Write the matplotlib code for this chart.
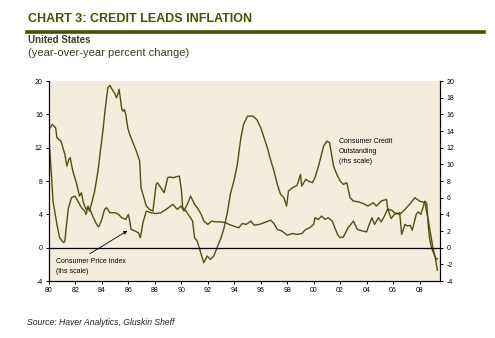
import matplotlib.pyplot as plt
import numpy as np

# Consumer credit outstanding, y/y % (rhs scale)
cc_years = [1980.0, 1980.2, 1980.3, 1980.6, 1980.8, 1981.1, 1981.2, 1981.3, 1981.45, 1981.55,
            1981.7, 1981.95, 1982.1, 1982.25, 1982.45, 1982.7, 1982.8, 1982.95, 1983.05, 1983.2,
            1983.45, 1983.7, 1983.95, 1984.1, 1984.2, 1984.35, 1984.45, 1984.6, 1984.7, 1984.85,
            1984.95, 1985.1, 1985.2, 1985.3, 1985.5, 1985.6, 1985.7, 1985.8, 1985.95, 1986.1,
            1986.35, 1986.6, 1986.85, 1986.95, 1987.1, 1987.35, 1987.6, 1987.85, 1988.1, 1988.2,
            1988.45, 1988.7, 1988.97, 1989.15, 1989.35, 1989.6, 1989.85, 1990.0, 1990.1, 1990.35,
            1990.6, 1990.85, 1991.0, 1991.2, 1991.5, 1991.7, 1991.95, 1992.2, 1992.45, 1992.7,
            1993.0, 1993.2, 1993.5, 1993.7, 1994.0, 1994.23, 1994.5, 1994.7, 1995.0, 1995.4,
            1995.7, 1996.0, 1996.25, 1996.5, 1996.7, 1997.0, 1997.25, 1997.5, 1997.75, 1997.95,
            1998.1, 1998.4, 1998.75, 1999.0, 1999.1, 1999.4, 1999.6, 1999.9, 2000.1, 2000.4,
            2000.75, 2001.0, 2001.2, 2001.5, 2001.75, 2002.0, 2002.25, 2002.5, 2002.75, 2003.0,
            2003.4, 2003.75, 2004.1, 2004.5, 2004.75, 2005.1, 2005.5, 2005.6, 2005.9, 2006.1,
            2006.5, 2006.9, 2007.3, 2007.65, 2008.0, 2008.4, 2008.5, 2008.65, 2008.85, 2009.0,
            2009.2, 2009.35]
cc_vals = [13.0, 8.4, 5.6, 2.8, 1.2, 0.6, 0.8, 2.4, 4.6, 5.2,
           6.0, 6.2, 5.8, 5.4, 4.8, 4.4, 4.0, 5.0, 4.4, 5.2,
           6.8, 9.2, 12.4, 14.4, 16.0, 18.0, 19.2, 19.5, 19.2, 18.8,
           18.6, 18.0, 18.4, 19.0, 16.6, 16.4, 16.6, 16.0, 14.4, 13.6,
           12.6, 11.6, 10.4, 7.2, 6.4, 5.0, 4.6, 4.4, 7.6, 7.8,
           7.2, 6.6, 8.4, 8.5, 8.4, 8.5, 8.6, 7.0, 4.8, 4.4,
           3.8, 3.2, 1.2, 0.8, -0.8, -1.8, -1.0, -1.4, -1.0, 0.0,
           1.2, 2.2, 4.4, 6.4, 8.2, 10.0, 13.2, 14.8, 15.8, 15.8,
           15.4, 14.4, 13.2, 12.0, 10.8, 9.2, 7.6, 6.4, 6.0, 5.0,
           6.8, 7.2, 7.5, 8.8, 7.4, 8.2, 8.0, 7.8, 8.4, 10.0,
           12.2, 12.8, 12.6, 9.8, 8.8, 8.0, 7.6, 7.8, 6.0, 5.6,
           5.5, 5.3, 5.0, 5.4, 5.0, 5.6, 5.8, 4.6, 4.5, 4.2,
           4.0, 4.6, 5.3, 6.0, 5.6, 5.4, 4.6, 3.4, 1.5, 0.1,
           -1.3, -2.7]

# Consumer price index, y/y % (lhs scale)
cpi_years = [1980.0, 1980.25, 1980.5, 1980.6, 1980.9, 1981.2, 1981.35, 1981.5, 1981.6, 1981.8,
             1982.1, 1982.3, 1982.45, 1982.6, 1982.8, 1982.95, 1983.15, 1983.3, 1983.6, 1983.75,
             1983.95, 1984.2, 1984.35, 1984.6, 1985.0, 1985.25, 1985.5, 1985.8, 1986.0, 1986.1,
             1986.2, 1986.5, 1986.75, 1986.9, 1987.1, 1987.35, 1987.7, 1988.1, 1988.45, 1988.85,
             1989.35, 1989.7, 1989.97, 1990.2, 1990.5, 1990.7, 1991.0, 1991.2, 1991.5, 1991.7,
             1992.0, 1992.3, 1992.6, 1993.0, 1993.35, 1993.6, 1994.1, 1994.35, 1994.6, 1994.9,
             1995.25, 1995.5, 1995.9, 1996.25, 1996.75, 1997.0, 1997.25, 1997.6, 1998.0, 1998.4,
             1998.75, 1999.1, 1999.4, 1999.7, 2000.0, 2000.1, 2000.35, 2000.6, 2000.85, 2001.1,
             2001.4, 2001.6, 2001.8, 2002.0, 2002.25, 2002.6, 2003.0, 2003.3, 2003.7, 2004.0,
             2004.2, 2004.4, 2004.6, 2004.9, 2005.1, 2005.35, 2005.6, 2005.85, 2006.1, 2006.5,
             2006.65, 2006.9, 2007.1, 2007.3, 2007.45, 2007.75, 2007.9, 2008.1, 2008.4, 2008.55,
             2008.65, 2008.75, 2008.9, 2009.1, 2009.25, 2009.35]
cpi_vals = [14.2, 14.8, 14.4, 13.2, 12.8, 11.2, 9.8, 10.6, 10.8, 9.2,
            7.6, 6.2, 6.6, 5.4, 4.6, 4.9, 4.4, 3.8, 2.8, 2.5,
            3.2, 4.6, 4.8, 4.2, 4.2, 4.0, 3.6, 3.4, 4.0, 3.2,
            2.2, 2.0, 1.8, 1.2, 3.0, 4.4, 4.2, 4.1, 4.2, 4.6,
            5.2, 4.6, 5.0, 4.4, 5.4, 6.2, 5.2, 4.8, 4.0, 3.2,
            2.8, 3.2, 3.1, 3.1, 3.0, 2.8, 2.5, 2.4, 2.9, 2.8,
            3.2, 2.7, 2.8, 3.0, 3.3, 2.9, 2.2, 2.0, 1.5, 1.7,
            1.6, 1.7, 2.2, 2.4, 2.8, 3.6, 3.4, 3.8, 3.4, 3.6,
            3.2, 2.4, 1.6, 1.2, 1.3, 2.4, 3.2, 2.2, 2.0, 1.9,
            2.8, 3.6, 2.8, 3.6, 3.1, 3.8, 4.7, 3.5, 4.0, 4.2,
            1.6, 2.8, 2.6, 2.7, 2.1, 4.0, 4.3, 4.0, 5.6, 5.3,
            2.8, 1.2, 0.0, -0.8, -1.4, -1.3]

x_ticks = list(range(1980, 2009, 2))
x_labels = [f"{y % 100:02d}" for y in x_ticks]
left_ticks = [-4, 0, 4, 8, 12, 16, 20]
right_ticks = list(range(-4, 21, 2))

olive = '#4a5000'
line_col = '#4f4f12'

plt.rcParams['font.family'] = ['Liberation Sans', 'DejaVu Sans']
plt.rcParams['axes.unicode_minus'] = False
fig = plt.figure(figsize=(4.95, 3.38), dpi=100)

fig.text(0.057, 0.945, 'CHART 3: CREDIT LEADS INFLATION', fontsize=9, fontweight='bold',
         color=olive, va='center')
fig.add_artist(plt.Line2D([0.055, 0.977], [0.905, 0.905], color=olive, lw=2.6,
                          transform=fig.transFigure))
fig.text(0.057, 0.883, 'United States', fontsize=7, fontweight='bold', color='#3d3d20', va='center')
fig.text(0.057, 0.843, '(year-over-year percent change)', fontsize=8, color='#3d3d20', va='center')
fig.text(0.055, 0.047, 'Source: Haver Analytics, Gluskin Sheff', fontsize=6.2, style='italic',
         color='#222222', va='center')

ax = fig.add_axes([0.099, 0.1686, 0.790, 0.5914])
ax.set_facecolor('#f3eedb')
ax.plot(cc_years, cc_vals, color=line_col, lw=1.0)
ax.plot(cpi_years, cpi_vals, color=line_col, lw=1.0)
ax.axhline(0, color='black', lw=0.9)

ax.set_xlim(1980, 2009.55)
ax.set_ylim(-4, 20)
ax.set_xticks(x_ticks)
ax.set_xticklabels(x_labels)
ax.set_yticks(left_ticks)
ax.tick_params(labelsize=5, length=2.5, width=0.7, pad=2, direction='out')
ax.spines['top'].set_visible(False)
for s in ['left', 'right', 'bottom']:
    ax.spines[s].set_linewidth(0.8)

ax2 = ax.twinx()
ax2.set_ylim(-4, 20)
ax2.set_yticks(right_ticks)
ax2.tick_params(labelsize=5, length=2.5, width=0.7, pad=2, direction='out')
ax2.spines['top'].set_visible(False)
ax2.spines['right'].set_linewidth(0.8)

ax.annotate('', xy=(1986.1, 2.2), xytext=(1982.9, -0.9),
            arrowprops=dict(arrowstyle='-|>', color='black', lw=0.6, mutation_scale=5))
ax.text(1980.55, -1.7, 'Consumer Price Index', fontsize=5, va='center')
ax.text(1980.55, -2.9, '(lhs scale)', fontsize=5, va='center')
ax.text(2001.9, 12.8, 'Consumer Credit', fontsize=5, va='center')
ax.text(2001.9, 11.6, 'Outstanding', fontsize=5, va='center')
ax.text(2001.9, 10.4, '(rhs scale)', fontsize=5, va='center')

plt.savefig('out.png', dpi=100)
